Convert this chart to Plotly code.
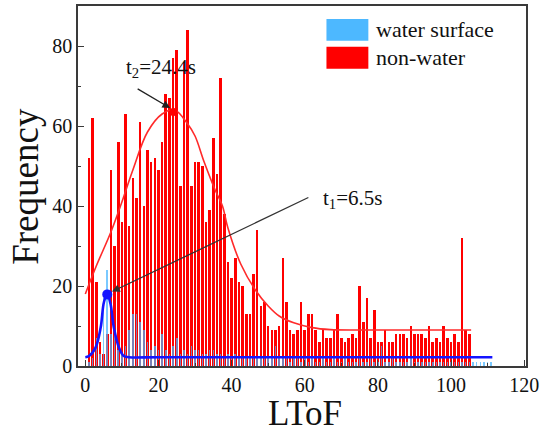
import plotly.graph_objects as go

# ---------------- data ----------------
ltof = list(range(1, 106))
non_water = [52, 62, 21, 6, 3, 8, 49, 30, 56, 36,
             63, 35, 47, 42, 61, 40, 54, 51, 52, 49,
             56, 68, 67, 77, 79, 45, 76, 84, 45, 51,
             51, 50, 36, 39, 57, 48, 72, 38, 26, 22,
             27, 21, 20, 13, 13, 23, 34, 15, 16, 10,
             9, 9, 10, 27, 16, 9, 8, 9, 16, 9,
             13, 13, 9, 6, 9, 7, 7, 9, 13, 7,
             6, 7, 8, 7, 20, 11, 17, 7, 14, 6,
             6, 9, 6, 6, 8, 8, 8, 7, 10, 8,
             8, 8, 7, 10, 6, 7, 6, 10, 7, 6,
             8, 6, 32, 9, 8]

ltof_w = list(range(1, 112))
water = [1, 2, 7, 3, 17, 24, 8, 9, 4, 3,
         5, 9, 13, 13, 11, 9, 6, 4, 5, 4,
         8, 4, 3, 5, 7, 3, 4, 3, 5, 4,
         4, 3, 3, 4, 4, 3, 3, 2, 3, 2,
         3, 2, 2, 2, 2, 2, 2, 2, 2, 2,
         2, 5, 2, 2, 2, 1, 2, 2, 1, 2,
         1, 2, 1, 1, 2, 1, 1, 2, 1, 1,
         2, 1, 1, 1, 2, 1, 1, 2, 1, 1,
         5, 1, 1, 2, 1, 1, 1, 1, 2, 1,
         1, 1, 1, 1, 1, 1, 1, 1, 1, 1,
         1, 1, 1, 1, 1, 1, 1, 1, 1, 1, 1]

# fitted curves, points
fit_nw_x = [0, 3, 7, 10, 13, 17, 21, 24.4, 28, 30, 32.5, 35.5, 37.5, 39, 42.5,
            46.5, 50, 53, 57, 62, 67, 75, 90, 105.5]
fit_nw_y = [18, 25, 33.5, 41, 49, 58.5, 63, 64, 60.5, 57.5, 51, 44, 40, 34.5, 25.5,
            19, 15, 12.5, 10.8, 9.6, 9.1, 9, 9, 9]

fit_w_x = [0, 1, 2.8, 4.2, 5.1, 6.0, 6.9, 7.8, 9.2, 10.5, 11.9, 20, 60, 111.3]
fit_w_y = [2.2, 2.5, 4.6, 9.6, 16, 17.9, 15.5, 9.6, 4.6, 2.5, 2.2, 2.2, 2.2, 2.2]

peak_nw = (24.1, 63.5)
peak_w = (6.0, 17.9)

x_ticks = [0, 20, 40, 60, 80, 100, 120]
y_ticks = [0, 20, 40, 60, 80]

# ---------------- figure ----------------
SERIF = "Liberation Serif, Times New Roman, serif"
AX = "#3a3a3a"

fig = go.Figure()

fig.add_trace(go.Bar(x=ltof, y=non_water, width=0.7, name="non-water",
                     marker=dict(color="#ff0000", line=dict(width=0)),
                     showlegend=False))
fig.add_trace(go.Bar(x=ltof_w, y=water, width=0.42, name="water surface",
                     marker=dict(color="rgba(70,180,255,0.72)", line=dict(width=0)),
                     showlegend=False))

fig.add_trace(go.Scatter(x=fit_nw_x, y=fit_nw_y, mode="lines",
                         line=dict(color="#ff2a2a", width=1.6, shape="spline"),
                         showlegend=False))
fig.add_trace(go.Scatter(x=fit_w_x, y=fit_w_y, mode="lines",
                         line=dict(color="#1414ff", width=2.6, shape="spline"),
                         showlegend=False))
fig.add_trace(go.Scatter(x=[peak_nw[0]], y=[peak_nw[1]], mode="markers",
                         marker=dict(color="#ff0000", size=8), showlegend=False))
fig.add_trace(go.Scatter(x=[peak_w[0]], y=[peak_w[1]], mode="markers",
                         marker=dict(color="#1414ff", size=10), showlegend=False))

# arrows
fig.add_annotation(x=23.2, y=64.5, ax=13.9, ay=69.5, axref="x", ayref="y",
                   xref="x", yref="y", text="", showarrow=True,
                   arrowhead=2, arrowsize=1.2, arrowwidth=1.3, arrowcolor="#222")
fig.add_annotation(x=7.3, y=18.6, ax=61.4, ay=42.3, axref="x", ayref="y",
                   xref="x", yref="y", text="", showarrow=True,
                   arrowhead=2, arrowsize=1.2, arrowwidth=1.3, arrowcolor="#333")

# annotation texts
fig.add_annotation(x=20.7, y=74.5, xref="x", yref="y", showarrow=False,
                   text="t<sub>2</sub>=24.4s",
                   font=dict(family=SERIF, size=21, color="#111"))
fig.add_annotation(x=64.5, y=41.8, xref="x", yref="y", showarrow=False,
                   xanchor="left", text="t<sub>1</sub>=6.5s",
                   font=dict(family=SERIF, size=21, color="#111"))

# manual legend
fig.add_shape(type="rect", xref="paper", yref="paper",
              x0=0.5546, x1=0.6481, y0=0.9033, y1=0.9641,
              fillcolor="#4db8ff", line=dict(width=0))
fig.add_shape(type="rect", xref="paper", yref="paper",
              x0=0.5546, x1=0.6481, y0=0.826, y1=0.8867,
              fillcolor="#ff0000", line=dict(width=0))
fig.add_annotation(x=0.6615, y=0.9337, xref="paper", yref="paper", showarrow=False,
                   xanchor="left", yanchor="middle", text="water surface",
                   font=dict(family=SERIF, size=22, color="#111"))
fig.add_annotation(x=0.6615, y=0.856, xref="paper", yref="paper", showarrow=False,
                   xanchor="left", yanchor="middle", text="non-water",
                   font=dict(family=SERIF, size=22, color="#111"))

# axis titles
fig.add_annotation(x=-0.169, y=0.5, xref="paper", yref="paper", showarrow=False,
                   textangle=-90, text="Frequency",
                   font=dict(family=SERIF, size=37, color="#111"))
fig.add_annotation(x=0.5056, y=-0.131, xref="paper", yref="paper", showarrow=False,
                   yanchor="middle", text="LToF",
                   font=dict(family=SERIF, size=35, color="#111"))

fig.update_layout(
    width=543, height=432,
    margin=dict(l=78, r=16, t=4, b=66),
    paper_bgcolor="white", plot_bgcolor="white",
    barmode="overlay", bargap=0,
    showlegend=False,
    font=dict(family=SERIF, color="#111"),
)
fig.update_xaxes(range=[-2, 120.5], tickvals=x_ticks, ticktext=[str(v) for v in x_ticks],
                 ticks="inside", ticklen=6, tickwidth=1.3, tickcolor=AX,
                 minor=dict(ticks="inside", ticklen=3, tickvals=[10, 30, 50, 70, 90, 110],
                            tickcolor=AX),
                 showline=True, linecolor=AX, linewidth=1.6, mirror=True,
                 showgrid=False, zeroline=False,
                 tickfont=dict(family=SERIF, size=20, color="#111"))
fig.update_yaxes(range=[0, 90], tickvals=y_ticks, ticktext=[str(v) for v in y_ticks],
                 ticks="inside", ticklen=6, tickwidth=1.3, tickcolor=AX,
                 minor=dict(ticks="inside", ticklen=3, tickvals=[10, 30, 50, 70],
                            tickcolor=AX),
                 showline=True, linecolor=AX, linewidth=1.6, mirror=True,
                 showgrid=False, zeroline=False,
                 tickfont=dict(family=SERIF, size=20, color="#111"))

fig.write_html("out.html", config={"displayModeBar": False},
               post_script="document.body.style.margin='0px';document.body.style.overflow='hidden';")
